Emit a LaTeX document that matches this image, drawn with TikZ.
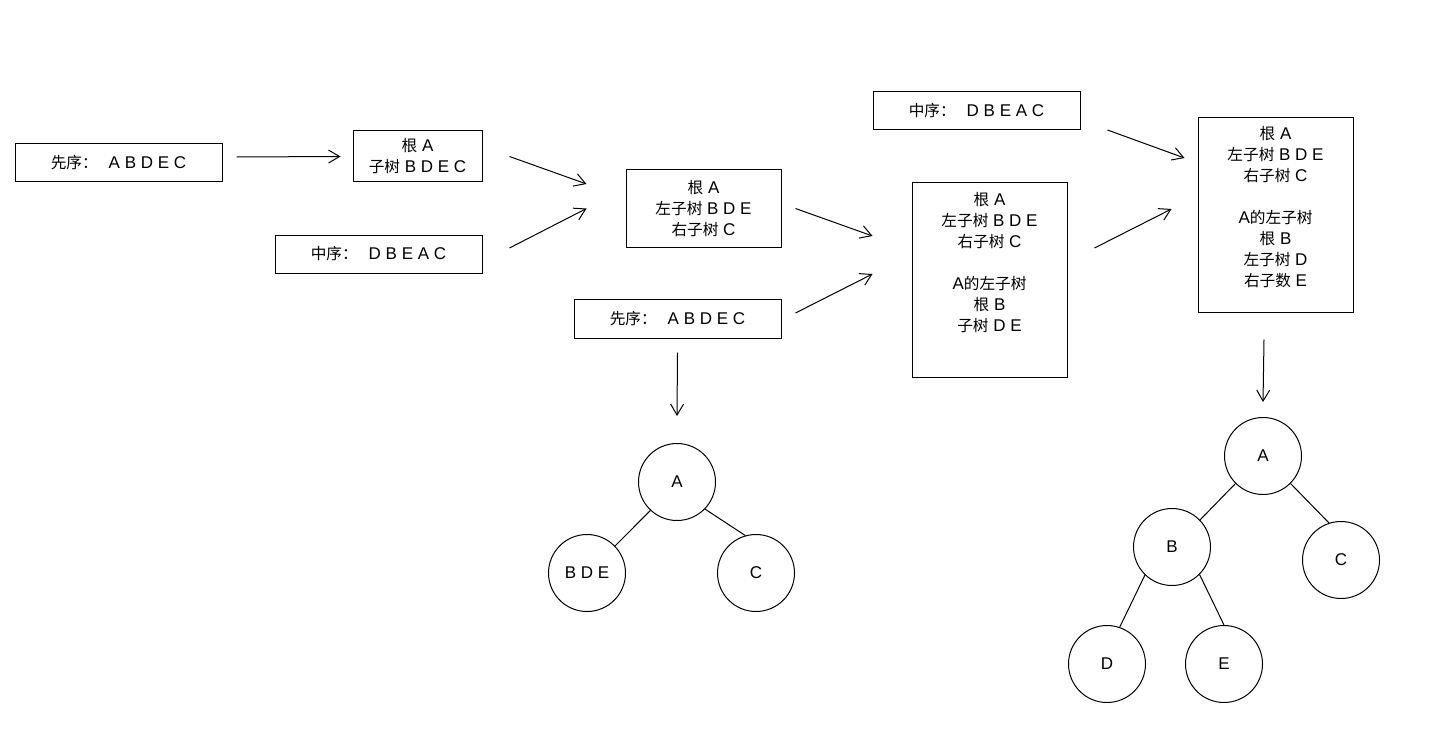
\documentclass[tikz,border=0pt]{standalone}
\usepackage{fontspec}
\setmainfont{Liberation Sans}
\newfontfamily\cjk[Scale=0.92]{Noto Sans CJK SC}
\newcommand{\zh}[1]{{\cjk #1}}
\usetikzlibrary{arrows.meta}
\begin{document}
\begin{tikzpicture}[x=1pt,y=-1pt,line width=1pt,
  font=\fontsize{17}{21}\selectfont,
  box/.style={draw,inner sep=0pt,align=center},
  knot/.style={draw,circle,minimum size=77pt,inner sep=0pt},
  arr/.style={-{Straight Barb[length=11pt,width=13pt]}}]
\useasboundingbox (0,0) rectangle (1447,746);
% boxes
\node[box,minimum width=207pt,minimum height=38pt] (pre1) at (118.5,163) {\zh{先序：}\hspace{11pt}A B D E C};
\node[box,minimum width=129pt,minimum height=51pt] (root1) at (417.5,156.5) {\zh{根} A\\\zh{子树} B D E C};
\node[box,minimum width=207pt,minimum height=38pt] (in1) at (378.5,254) {\zh{中序：}\hspace{11pt}D B E A C};
\node[box,minimum width=155pt,minimum height=77pt] (box2) at (703.5,208.5) {\zh{根} A\\\zh{左子树} B D E\\\zh{右子树} C};
\node[box,minimum width=207pt,minimum height=39pt] (pre2) at (677.5,318.5) {\zh{先序：}\hspace{11pt}A B D E C};
\node[box,minimum width=207pt,minimum height=38pt] (in2) at (976.5,111) {\zh{中序：}\hspace{11pt}D B E A C};
\node[box,minimum width=155pt,minimum height=194pt] (box3) at (989.5,280) {};
\node[align=center,anchor=north,inner sep=0pt] (t3) at ([yshift=-9pt]box3.north) {\zh{根} A\\\zh{左子树} B D E\\\zh{右子树} C\\[21pt]A\zh{的左子树}\\\zh{根} B\\\zh{子树} D E};
\node[box,minimum width=155pt,minimum height=194pt] (box4) at (1275.5,215) {};
\node[align=center,anchor=north,inner sep=0pt] (t4) at ([yshift=-8pt]box4.north) {\zh{根} A\\\zh{左子树} B D E\\\zh{右子树} C\\[21pt]A\zh{的左子树}\\\zh{根} B\\\zh{左子树} D\\\zh{右子数} E};
% trees
\node[knot] (r1A) at (677,482) {A};
\node[knot] (r1L) at (587,573) {B D E};
\node[knot] (r1C) at (756,573) {C};
\node[knot] (r2A) at (1263,456) {A};
\node[knot] (r2B) at (1172,547) {B};
\node[knot] (r2C) at (1341,560) {C};
\node[knot] (r2D) at (1107,664) {D};
\node[knot] (r2E) at (1224,664) {E};
\draw (r1A.227) -- (r1L.44);
\draw (r1A.-44) -- (r1C.106);
\draw (r2A.225) -- (r2B.44);
\draw (r2A.-45) -- (r2C.108);
\draw (r2B.226) -- (r2D.71);
\draw (r2B.-45) -- (r2E.90);
% arrows
\draw[arr] ([shift={(14,-6)}]pre1.east) -- ([shift={(-12,0)}]root1.west);
\draw[arr] ([shift={(27,0)}]root1.east) -- ([shift={(-39,-24.5)}]box2.west);
\draw[arr] ([shift={(27,-6)}]in1.east) -- ([shift={(-39,0)}]box2.west);
\draw[arr] ([shift={(14,0)}]box2.east) -- ([shift={(-39,-44)}]box3.west);
\draw[arr] ([shift={(14,-5.5)}]pre2.east) -- ([shift={(-39,-6)}]box3.west);
\draw[arr] ([shift={(27,19)}]in2.east) -- ([shift={(-13,-57)}]box4.west);
\draw[arr] ([shift={(27,-32)}]box3.east) -- ([shift={(-26,-6)}]box4.west);
\draw[arr] ([shift={(0,14)}]pre2.south) -- ([shift={(0,-27)}]r1A.north);
\draw[arr] ([shift={(-11.5,27)}]box4.south) -- ([shift={(0,-15)}]r2A.north);
\end{tikzpicture}
\end{document}
